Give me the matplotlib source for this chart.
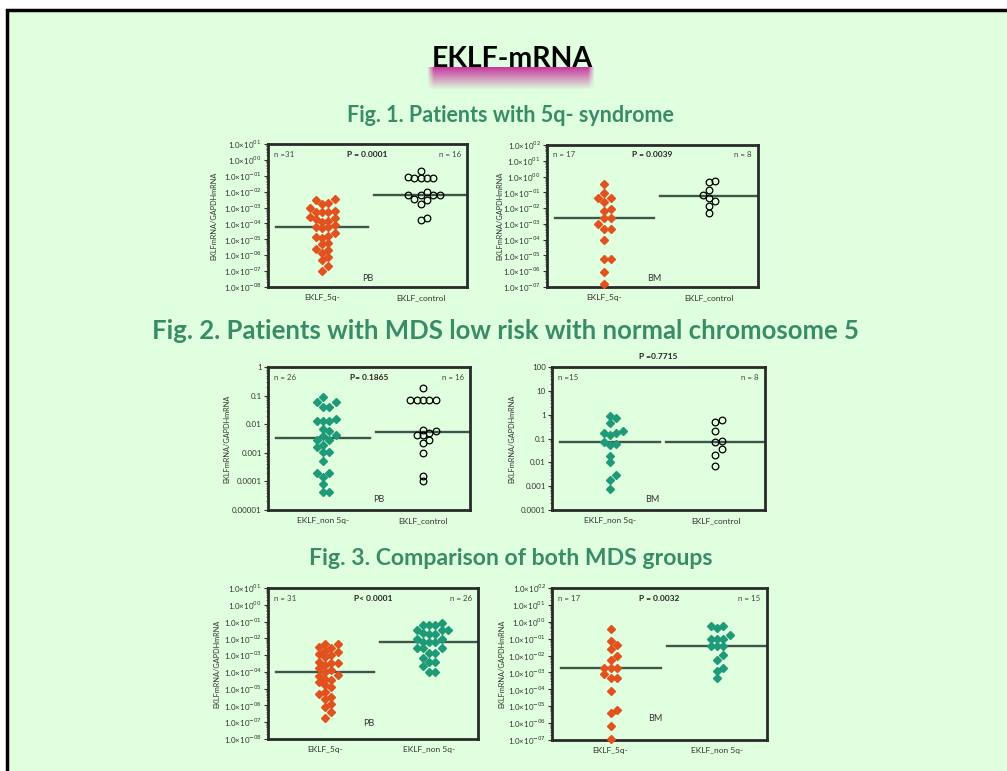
import numpy as np
import matplotlib.pyplot as plt
from matplotlib.patches import Rectangle
from matplotlib.ticker import FixedLocator, LogLocator, NullFormatter

plt.rcParams['font.family'] = ['Lato', 'DejaVu Sans']

# ---------------- data (EKLF mRNA / GAPDH mRNA) ---------------- #

fig1_pb_5q = [3.5e-3, 3.2e-3, 1.8e-3, 1.6e-3, 1.0e-3, 6.3e-4, 5.6e-4, 5.0e-4, 5.6e-4, 2.5e-4,
              2.2e-4, 2.0e-4, 1.4e-4, 1.3e-4, 7.9e-5, 6.3e-5, 5.6e-5, 5.0e-5, 2.5e-5, 1.6e-5,
              1.4e-5, 1.3e-5, 6.3e-6, 5.0e-6, 2.5e-6, 2.0e-6, 1.4e-6, 7.9e-7, 5.0e-7, 2.0e-7, 1.0e-7]
fig1_pb_control = [2.0e-1, 7.9e-2, 7.6e-2, 7.6e-2, 7.4e-2, 7.1e-2, 9.3e-3, 6.6e-3,
                   6.3e-3, 6.3e-3, 6.0e-3, 3.5e-3, 3.2e-3, 1.6e-3, 2.2e-4, 1.6e-4]
fig1_bm_5q = [3.6e-1, 8.5e-2, 4.1e-2, 4.1e-2, 2.5e-2, 9.3e-3, 6.5e-3, 2.2e-3, 2.2e-3,
              9.5e-4, 5.0e-4, 5.0e-4, 9.1e-5, 6.3e-6, 6.3e-6, 8.9e-7, 1.5e-7]
fig1_bm_control = [5.0e-1, 4.5e-1, 1.5e-1, 6.6e-2, 4.5e-2, 2.9e-2, 1.3e-2, 4.6e-3]

fig2_pb_non5q = [8.9e-2, 5.9e-2, 5.9e-2, 4.0e-2, 4.0e-2, 1.5e-2, 1.3e-2, 1.3e-2, 1.3e-2,
                 6.9e-3, 5.6e-3, 4.3e-3, 3.8e-3, 2.9e-3, 2.9e-3, 1.9e-3, 1.6e-3, 1.1e-3,
                 1.1e-3, 5.0e-4, 1.9e-4, 1.9e-4, 1.4e-4, 7.8e-5, 4.2e-5, 4.2e-5]
fig2_pb_control = [1.8e-1, 6.8e-2, 6.8e-2, 6.8e-2, 6.8e-2, 6.8e-2, 6.5e-3, 5.8e-3,
                   4.9e-3, 4.1e-3, 4.1e-3, 2.7e-3, 2.2e-3, 1.0e-3, 1.6e-4, 1.0e-4]
fig2_bm_non5q = [8.5e-1, 7.2e-1, 4.5e-1, 2.0e-1, 1.7e-1, 1.7e-1, 1.4e-1, 6.8e-2,
                 6.0e-2, 5.4e-2, 1.9e-2, 1.0e-2, 3.0e-3, 1.9e-3, 7.9e-4]
fig2_bm_control = [6.0e-1, 4.9e-1, 2.0e-1, 7.9e-2, 6.8e-2, 3.6e-2, 2.1e-2, 7.1e-3]

fig3_pb_5q = [4.8e-3, 4.5e-3, 3.2e-3, 2.5e-3, 1.8e-3, 1.6e-3, 1.1e-3, 1.0e-3, 7.9e-4, 4.0e-4,
              3.5e-4, 3.2e-4, 2.5e-4, 1.8e-4, 1.3e-4, 9.3e-5, 6.3e-5, 5.6e-5, 4.0e-5, 3.2e-5,
              2.5e-5, 1.6e-5, 1.3e-5, 6.3e-6, 4.5e-6, 3.2e-6, 2.5e-6, 1.3e-6, 7.9e-7, 4.0e-7, 1.9e-7]
fig3_pb_non5q = [8.1e-2, 6.5e-2, 6.5e-2, 6.5e-2, 3.2e-2, 3.2e-2, 3.2e-2, 2.1e-2, 1.7e-2,
                 1.7e-2, 9.1e-3, 9.1e-3, 5.8e-3, 5.8e-3, 5.8e-3, 2.6e-3, 2.6e-3, 2.6e-3,
                 1.3e-3, 1.3e-3, 6.8e-4, 3.9e-4, 3.9e-4, 2.1e-4, 9.8e-5, 9.8e-5]
fig3_bm_5q = [3.5e-1, 6.8e-2, 4.2e-2, 2.3e-2, 9.3e-3, 5.2e-3, 1.9e-3, 1.9e-3, 1.9e-3,
              7.9e-4, 4.5e-4, 4.5e-4, 7.9e-5, 5.8e-6, 4.1e-6, 7.2e-7, 1.1e-7]
fig3_bm_non5q = [5.6e-1, 5.6e-1, 4.0e-1, 1.7e-1, 9.1e-2, 9.1e-2, 9.1e-2, 3.7e-2, 3.7e-2,
                 3.7e-2, 1.1e-2, 5.2e-3, 1.9e-3, 1.2e-3, 4.9e-4]

# ---------------- style ---------------- #

W, H = 1007, 771
BG = '#dfffdf'
ORANGE = '#e2521f'
TEAL = '#1f9a78'
TITLE_GREEN = '#3a8c68'
MEDIAN = '#3f574a'
SPINE = '#2a2a2a'


def sci_label(v):
    e = int(round(np.log10(v)))
    sign = '-' if e < 0 else ''
    return '1.0×10$^{' + sign + f'{abs(e):02d}' + '}$'


def swarm_offsets(values, ylim, height_px, d):
    # greedy beeswarm: each point goes to the first free slot 0, +d, -d, +2d ...
    lo, hi = np.log10(ylim)
    ypix = (np.log10(values) - lo) / (hi - lo) * height_px
    xs = np.zeros(len(values))
    placed = []
    for i in np.argsort(ypix):
        for k in [0, 1, -1, 2, -2, 3, -3, 4, -4]:
            x = k * d
            if all((x - px) ** 2 + (ypix[i] - py) ** 2 >= (0.9 * d) ** 2 for px, py in placed):
                break
        placed.append((x, ypix[i]))
        xs[i] = x
    return xs


def panel(box, groups, ylim, ticks, labels, xnames, site, site_pos, n_left, n_right, ptext,
          p_above=False, ylabel_px=45):
    left, top, right, bottom = box
    ax = fig.add_axes([left / W, 1 - bottom / H, (right - left) / W, (bottom - top) / H])
    ax.set_facecolor(BG)
    ax.set_yscale('log')
    ax.set_ylim(ylim)
    xlim = (0.45, 2.47)
    ax.set_xlim(xlim)
    width_px, height_px = right - left, bottom - top
    dx = (xlim[1] - xlim[0]) / width_px

    for c, (vals, style) in enumerate(groups, start=1):
        vals = np.asarray(vals)
        offs = swarm_offsets(vals, ylim, height_px, 6.3) * dx
        if style == 'open':
            ax.plot(c + offs, vals, ls='none', marker='o', ms=4.8, mfc='none', mec='black',
                    mew=0.9, clip_on=False, zorder=3)
        else:
            ax.plot(c + offs, vals, ls='none', marker='D', ms=4.2, color=style, mec=style,
                    clip_on=False, zorder=3)
        med = np.median(vals)
        ax.plot([c - 0.47, c + 0.47], [med, med], color=MEDIAN, lw=1.7, zorder=2)

    ax.yaxis.set_major_locator(FixedLocator(ticks))
    ax.set_yticklabels(labels)
    ax.yaxis.set_minor_locator(LogLocator(base=10, subs=np.arange(2, 10), numticks=50))
    ax.yaxis.set_minor_formatter(NullFormatter())
    ax.tick_params(axis='y', which='major', labelsize=5.7, length=3, width=0.8, pad=1.5,
                   colors='#333333')
    ax.tick_params(axis='y', which='minor', length=1.5, width=0.5, colors='#333333')
    ax.set_xticks([1, 2])
    ax.set_xticklabels(xnames)
    ax.tick_params(axis='x', labelsize=6, length=0, pad=5, colors='#333333')
    for sp in ax.spines.values():
        sp.set_linewidth(2.0)
        sp.set_color(SPINE)

    ax.set_ylabel('EKLFmRNA/GAPDHmRNA', fontsize=5.3, color='#333333')
    ax.yaxis.set_label_coords(-ylabel_px / width_px, 0.5)

    ax.text(0.03, 0.93, n_left, transform=ax.transAxes, fontsize=5.7, color='#444444',
            va='center', ha='left')
    ax.text(0.97, 0.93, n_right, transform=ax.transAxes, fontsize=5.7, color='#444444',
            va='center', ha='right')
    py = 1.07 if p_above else 0.93
    ax.text(0.5, py, ptext, transform=ax.transAxes, fontsize=6, color='#222222',
            va='center', ha='center', fontweight='bold')
    ax.text(site_pos[0], site_pos[1], site, transform=ax.transAxes, fontsize=6.5,
            color='#333333', va='center', ha='center')
    return ax


# ---------------- figure ---------------- #

fig = plt.figure(figsize=(W / 100, H / 100), dpi=100)
fig.patch.set_facecolor('white')
fig.add_artist(Rectangle((7 / W, -0.05), 1.2, 1 - 10 / H + 0.05, transform=fig.transFigure,
                         facecolor=BG, edgecolor='black', lw=2.5, zorder=-10))

# magenta highlight bar under the heading
bar = fig.add_axes([427 / W, 1 - 89 / H, 168 / W, 22 / H])
grad = np.zeros((40, 200, 4))
grad[..., 0], grad[..., 1], grad[..., 2] = 0.78, 0.22, 0.62
vert = np.linspace(1.0, 0.05, 40)[:, None]
horiz = np.clip(np.minimum(np.linspace(0, 1, 200), np.linspace(1, 0, 200)) * 25, 0, 1)[None, :]
grad[..., 3] = vert * horiz
bar.imshow(grad, aspect='auto', interpolation='bilinear')
bar.axis('off')

fig.text(512 / W, 1 - 67 / H, 'EKLF-mRNA', fontsize=20.5, fontweight='bold', color='black',
         ha='center', va='baseline', zorder=5)
fig.text(510 / W, 1 - 122 / H, 'Fig. 1. Patients with 5q- syndrome', fontsize=15.5,
         fontweight='bold', color=TITLE_GREEN, ha='center', va='baseline')
fig.text(505 / W, 1 - 339 / H, 'Fig. 2. Patients with MDS low risk with normal chromosome 5',
         fontsize=18.5, fontweight='bold', color=TITLE_GREEN, ha='center', va='baseline')
fig.text(511 / W, 1 - 565 / H, 'Fig. 3. Comparison of both MDS groups', fontsize=16.6,
         fontweight='bold', color=TITLE_GREEN, ha='center', va='baseline')

sci_1 = [10.0 ** e for e in range(-8, 2)]
sci_2 = [10.0 ** e for e in range(-7, 3)]

panel((268, 144, 467, 287), [(fig1_pb_5q, ORANGE), (fig1_pb_control, 'open')], (1e-8, 10),
      sci_1, [sci_label(v) for v in sci_1], ['EKLF_5q-', 'EKLF_control'], 'PB', (0.5, 0.06),
      'n =31', 'n = 16', 'P = 0.0001', ylabel_px=51)
panel((547, 145, 758, 287), [(fig1_bm_5q, ORANGE), (fig1_bm_control, 'open')], (1e-7, 100),
      sci_2, [sci_label(v) for v in sci_2], ['EKLF_5q-', 'EKLF_control'], 'BM', (0.51, 0.06),
      'n = 17', 'n = 8', 'P = 0.0039', ylabel_px=44)

lin_3 = [1e-5, 1e-4, 1e-3, 1e-2, 1e-1, 1]
lin_4 = [1e-4, 1e-3, 1e-2, 1e-1, 1, 10, 100]
panel((268, 367, 470, 510), [(fig2_pb_non5q, TEAL), (fig2_pb_control, 'open')], (1e-5, 1),
      lin_3, ['0.00001', '0.0001', '0.001', '0.01', '0.1', '1'], ['EKLF_non 5q-', 'EKLF_control'],
      'PB', (0.55, 0.07), 'n = 26', 'n = 16', 'P= 0.1865', ylabel_px=38)
panel((552, 367, 765, 510), [(fig2_bm_non5q, TEAL), (fig2_bm_control, 'open')], (1e-4, 100),
      lin_4, ['0.0001', '0.001', '0.01', '0.1', '1', '10', '100'], ['EKLF_non 5q-', 'EKLF_control'],
      'BM', (0.47, 0.07), 'n =15', 'n = 8', 'P =0.7715', p_above=True, ylabel_px=37)

panel((268, 588, 478, 739), [(fig3_pb_5q, ORANGE), (fig3_pb_non5q, TEAL)], (1e-8, 10),
      sci_1, [sci_label(v) for v in sci_1], ['EKLF_5q-', 'EKLF_non 5q-'], 'PB', (0.48, 0.1),
      'n = 31', 'n = 26', 'P< 0.0001', ylabel_px=48)
panel((552, 588, 767, 740), [(fig3_bm_5q, ORANGE), (fig3_bm_non5q, TEAL)], (1e-7, 100),
      sci_2, [sci_label(v) for v in sci_2], ['EKLF_5q-', 'EKLF_non 5q-'], 'BM', (0.48, 0.14),
      'n = 17', 'n = 15', 'P = 0.0032', ylabel_px=47)

fig.savefig('out.png', dpi=100, facecolor=fig.get_facecolor())
